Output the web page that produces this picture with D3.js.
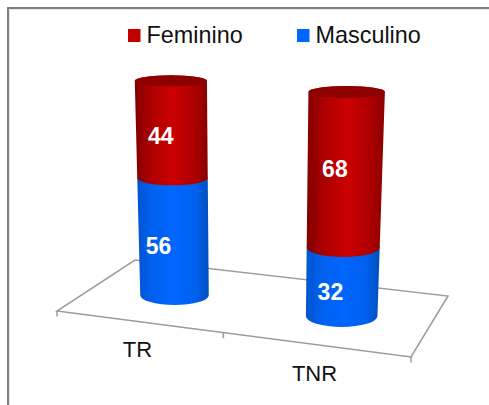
<!DOCTYPE html>
<html>
<head>
<meta charset="utf-8">
<style>
  html, body { margin: 0; padding: 0; background: #fff; }
  svg { display: block; font-family: "Liberation Sans", Arial, sans-serif; }
</style>
</head>
<body>
<div id="chart"></div>
<script src="https://cdn.jsdelivr.net/npm/d3@7/dist/d3.min.js"></script>
<script>
// Share of each sex (%) in the TR and TNR groups
const categories = ["TR", "TNR"];
const masculino = [56, 32];
const feminino = [44, 68];
const seriesNames = ["Masculino", "Feminino"];
const legendOrder = ["Feminino", "Masculino"];

const W = 489, H = 405;
const svg = d3.select("#chart").append("svg").attr("width", W).attr("height", H);

// Panel frame: dark edge with a pale inner line along the top and left
const frame = svg.append("g").attr("fill", "none");
frame.append("path").attr("d", "M10,9.5H489M9.5,10V405").attr("stroke", "#e6e6e6");
frame.append("path").attr("d", "M8,405V8H489").attr("stroke", "#808080").attr("stroke-width", 2);

// Floor of the 3D plot, corners in page space
const floor = { fl: [57, 311], fr: [411, 357], br: [448, 296], bl: [135, 260] };
const lerp = (a, b, t) => a + (b - a) * t;
const floorPoint = (u, v) => {
  const fx = lerp(floor.fl[0], floor.fr[0], u), fy = lerp(floor.fl[1], floor.fr[1], u);
  const bx = lerp(floor.bl[0], floor.br[0], u), by = lerp(floor.bl[1], floor.br[1], u);
  return [lerp(fx, bx, v), lerp(fy, by, v)];
};

const floorG = svg.append("g").attr("fill", "none").attr("stroke", "#9c9c9c").attr("stroke-width", 1.5);
floorG.append("path").attr("d", d3.line()([floor.fl, floor.fr, floor.br, floor.bl]) + "Z");
const uTicks = [0, 0.47, 1];
floorG.selectAll("path.tick").data(uTicks).join("path").attr("class", "tick")
  .attr("d", u => {
    const p = floorPoint(u, 0);
    return `M${p[0]},${p[1]}v5.5`;
  });

// Category position along the floor, value position up the column
const band = d3.scaleBand().domain(categories).range([0, 1]);
const uOf = c => band(c) + band.bandwidth() / 2;
const valueT = d3.scalePow().exponent(1.04).domain([0, 100]).range([0, 1]);

// Perspective terms: nearer columns are taller and wider
const heightAt = d3.scaleLinear().domain([0, 1]).range([209.75, 228.75]);
const baseHalf = d3.scaleLinear().domain([0, 1]).range([33.5, 36.5]);
const topHalf = d3.scaleLinear().domain([0, 1]).range([35, 39.3]);
const leanAt = d3.scaleLinear().domain([0, 1]).range([-8, 9.3]);
const baseRy = d3.scaleLinear().domain([0, 1]).range([8.9, 11.7]);
const topRy = d3.scaleLinear().domain([0, 1]).range([5.25, 6.25]);

function ring(category, value) {
  const u = uOf(category), t = valueT(value);
  const [bx, by] = floorPoint(u, 0.48);
  return {
    cx: bx - 3.5 + leanAt(u) * t,
    cy: by - 1.5 - heightAt(u) * t,
    rx: lerp(baseHalf(u), topHalf(u), t),
    ry: lerp(baseRy(u), topRy(u), t)
  };
}

// Horizontal shading that gives the columns their round look
const defs = svg.append("defs");
const shades = {
  Feminino: {
    stops: [[0, "#820000"], [0.22, "#ad0000"], [0.52, "#cc0000"], [0.82, "#ac0000"], [1, "#8a0000"]],
    top: "#8e0000", key: "#c00000"
  },
  Masculino: {
    stops: [[0, "#0054d0"], [0.22, "#0061f0"], [0.52, "#0066ff"], [0.82, "#0060ee"], [1, "#004fbc"]],
    top: "#0053c9", key: "#0066ff"
  }
};
seriesNames.forEach(name => {
  defs.append("linearGradient").attr("id", "shade-" + name)
    .selectAll("stop").data(shades[name].stops).join("stop")
    .attr("offset", d => d[0]).attr("stop-color", d => d[1]);
});

const rows = categories.map((c, i) => ({ category: c, Masculino: masculino[i], Feminino: feminino[i] }));
const stacked = d3.stack().keys(seriesNames)(rows);

function segmentPath(category, v0, v1) {
  const a = ring(category, v0), b = ring(category, v1);
  return `M${a.cx - a.rx},${a.cy}` +
    `A${a.rx},${a.ry} 0 0 0 ${a.cx + a.rx},${a.cy}` +
    `L${b.cx + b.rx},${b.cy}` +
    `A${b.rx},${b.ry} 0 0 0 ${b.cx - b.rx},${b.cy}Z`;
}

const columns = svg.append("g");
stacked.forEach(layer => {
  columns.append("g").selectAll("path").data(layer).join("path")
    .attr("d", d => segmentPath(d.data.category, d[0], d[1]))
    .attr("fill", `url(#shade-${layer.key})`);
});

// Cap on the top of each column
const capLayer = stacked[stacked.length - 1];
columns.append("g").selectAll("ellipse").data(capLayer).join("ellipse")
  .each(function (d) {
    const r = ring(d.data.category, d[1]);
    d3.select(this).attr("cx", r.cx).attr("cy", r.cy).attr("rx", r.rx).attr("ry", r.ry);
  })
  .attr("fill", shades[capLayer.key].top);

// Value labels, sitting a little left of each column's axis
const labelNudge = { Masculino: [[-15, 7], [-12, 9]], Feminino: [[-11, 6], [-10, -2]] };
const labels = svg.append("g").attr("fill", "#fff").attr("font-weight", "bold")
  .attr("font-size", 23).attr("text-anchor", "middle");
stacked.forEach(layer => {
  labels.append("g").selectAll("text").data(layer).join("text")
    .each(function (d, i) {
      const r = ring(d.data.category, (d[0] + d[1]) / 2);
      const [dx, dy] = labelNudge[layer.key][i];
      d3.select(this).attr("x", r.cx + dx).attr("y", r.cy + dy).attr("dy", "0.36em");
    })
    .text(d => d[1] - d[0]);
});

// Category names under the front edge of the floor
svg.append("g").attr("font-size", 22).attr("fill", "#111").attr("text-anchor", "middle")
  .selectAll("text").data(categories).join("text")
  .each(function (c) {
    const u = uOf(c), p = floorPoint(u, 0);
    d3.select(this).attr("x", p[0] - 8).attr("y", p[1] + 34 + 2 * u).text(c);
  });

// Legend across the top
const legendX = d3.scaleOrdinal().domain(legendOrder).range([128, 297]);
const legend = svg.append("g").selectAll("g").data(legendOrder).join("g")
  .attr("transform", d => `translate(${legendX(d)},29)`);
legend.append("rect").attr("width", 12.5).attr("height", 13).attr("fill", d => shades[d].key);
legend.append("text").attr("x", 18.5).attr("y", 14).attr("font-size", 23.4).attr("fill", "#111").text(d => d);
</script>
</body>
</html>
